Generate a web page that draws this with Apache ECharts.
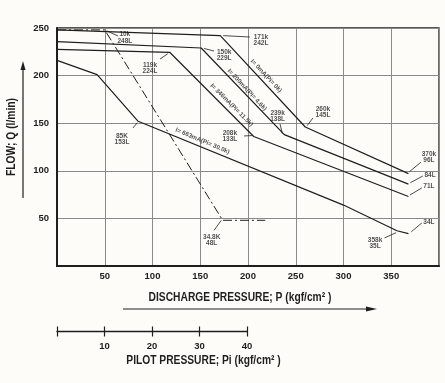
<!DOCTYPE html>
<html><head><meta charset="utf-8">
<script src="https://cdn.jsdelivr.net/npm/echarts@6/dist/echarts.min.js"></script>
<style>html,body{margin:0;padding:0;background:#fdfcf8}#c{width:445px;height:383px}</style>
</head><body><div id="c"></div>
<script>
// ---- data ----
const dischargeTicks = [50, 100, 150, 200, 250, 300, 350];
const flowTicks = [50, 100, 150, 200, 250];
const pilotTicks = [10, 20, 30, 40];

const curve0mA   = [[0, 248], [171, 242], [260, 146], [368, 97]];
const curve200mA = [[0, 235.6], [151, 229], [238, 138], [368, 86]];
const curve346mA = [[0, 227.6], [118, 224.5], [206, 136], [368, 73]];
const curve663mA = [[0, 216], [42, 201], [85, 152], [300, 64], [356, 37], [368, 34]];
const pilotLine  = [[0, 248], [50, 248], [173.5, 48], [218, 48]];

const curveNames = ['I= 0mA(Pi= 0k)', 'I= 200mA(Pi= 4.6k)', 'I= 346mA(Pi= 11.5k)', 'I= 663mA(Pi= 30.0k)'];
const curveNamePos = [[219, 199.6], [199, 185], [183, 169], [152.4, 131.3]];
const curveNameRot = [-47, -47, -45, -23];

const annText = ['10k\n248L', '171k\n242L', '150k\n229L', '119k\n224L', '239k\n138L', '260k\n145L',
                 '208k\n133L', '85K\n153L', '370k\n96L', '84L', '71L', '34L', '358k\n35L', '34.8K\n48L'];
const annTextPos = [[71, 240], [213.6, 237], [175, 221.6], [97.4, 208], [231, 157.6], [278.5, 161.8],
                    [181, 136.5], [68, 133.4], [389.5, 114.5], [390.6, 95.6], [389.5, 83.3], [389.5, 45.9],
                    [333, 24], [162, 27.3]];
const annFrom = [[64, 241.6], [202, 240.5], [164.4, 225.8], [107.9, 217.4], [233.5, 149.2], [268, 155.5],
                 [195.8, 136.6], [79.6, 145], [381, 109], [383, 94.5], [382, 82], [382, 45.2],
                 [343, 29.5], [164.5, 37.5]];
const annTo = [[52, 247], [174, 242], [154, 228.5], [116, 223], [236, 139], [262, 147.5],
               [204, 137], [84, 150.5], [369, 99], [370, 87.5], [369.5, 74.5], [371, 36],
               [355, 35], [172, 48]];

// ---- chart ----
const FONT = "'Liberation Sans',Arial,sans-serif";
const INK = '#1e1e1e';
const chart = echarts.init(document.getElementById('c'), null, {renderer: 'canvas'});

function curveSeries(d, dashed) {
  return {
    type: 'line', data: d, xAxisIndex: 0, yAxisIndex: 0, symbol: 'none', silent: true,
    lineStyle: {color: INK, width: dashed ? 1 : 1.2, type: dashed ? [9, 3, 2, 3] : 'solid'}
  };
}

const option = {
  backgroundColor: '#fdfcf8',
  animation: false,
  grid: [
    {left: 57, right: 6, top: 28, bottom: 117, show: true, borderColor: INK, borderWidth: 1.3, backgroundColor: 'transparent'},
    {left: 57, width: 190, top: 326.5, height: 10}
  ],
  xAxis: [
    {type: 'value', gridIndex: 0, min: 0, max: 400, interval: 50,
     axisLine: {show: true, lineStyle: {color: INK, width: 2}},
     axisTick: {show: false},
     splitLine: {show: true, lineStyle: {color: '#8a8a8a', width: 1}},
     axisLabel: {color: INK, fontFamily: FONT, fontWeight: 'bold', fontSize: 9.5, margin: 5,
       formatter: v => dischargeTicks.includes(v) ? String(v) : ''}},
    {type: 'value', gridIndex: 1, min: 0, max: 40, interval: 10,
     axisLine: {show: true, onZero: true, lineStyle: {color: INK, width: 1.3}},
     axisTick: {show: false},
     splitLine: {show: true, lineStyle: {color: INK, width: 1.2}},
     axisLabel: {color: INK, fontFamily: FONT, fontWeight: 'bold', fontSize: 9.5, margin: 5,
       formatter: v => pilotTicks.includes(v) ? String(v) : ''}}
  ],
  yAxis: [
    {type: 'value', gridIndex: 0, min: 0, max: 250, interval: 50,
     axisLine: {show: true, lineStyle: {color: INK, width: 2}},
     axisTick: {show: false},
     splitLine: {show: true, lineStyle: {color: '#8a8a8a', width: 1}},
     axisLabel: {color: INK, fontFamily: FONT, fontWeight: 'bold', fontSize: 9.5, margin: 8,
       formatter: v => flowTicks.includes(v) ? String(v) : ''}},
    {type: 'value', gridIndex: 1, min: -1, max: 1, show: false}
  ],
  series: [
    curveSeries(curve0mA, false),
    curveSeries(curve200mA, false),
    curveSeries(curve346mA, false),
    curveSeries(curve663mA, false),
    curveSeries(pilotLine, true),
    {
      type: 'scatter', xAxisIndex: 0, yAxisIndex: 0, symbolSize: 0, silent: true,
      data: curveNames.map((n, i) => ({
        value: curveNamePos[i],
        label: {show: true, position: 'inside', formatter: n, rotate: curveNameRot[i],
          color: INK, fontFamily: FONT, fontWeight: 'bold', fontSize: 6.2}
      }))
    },
    {
      type: 'scatter', xAxisIndex: 0, yAxisIndex: 0, symbolSize: 0, silent: true,
      data: annText.map((t, i) => ({
        value: annTextPos[i],
        label: {show: true, position: 'inside', formatter: t, color: INK, fontFamily: FONT,
          fontWeight: 'bold', fontSize: 6.5, lineHeight: 6.5, align: 'center'}
      })),
      markLine: {
        silent: true, symbol: ['none', 'arrow'], symbolSize: [0, 5],
        label: {show: false},
        lineStyle: {color: INK, width: 0.8, type: 'solid'},
        data: annFrom.map((f, i) => [{coord: f}, {coord: annTo[i]}])
      }
    }
  ],
  graphic: [
    {type: 'line', shape: {x1: 23, y1: 198, x2: 23, y2: 68}, style: {stroke: INK, lineWidth: 1.2}},
    {type: 'polygon', shape: {points: [[23, 61], [20.5, 70], [25.5, 70]]}, style: {fill: INK}},
    {type: 'text', x: 12, y: 137, rotation: Math.PI / 2, scaleX: 0.82,
     style: {text: 'FLOW; Q (l/min)', fill: INK, font: 'bold 12.5px ' + FONT, textAlign: 'center', textVerticalAlign: 'middle'}},
    {type: 'text', x: 240, y: 298, scaleX: 0.82,
     style: {text: 'DISCHARGE PRESSURE; P (kgf/cm² )', fill: INK, font: 'bold 12.5px ' + FONT, textAlign: 'center', textVerticalAlign: 'middle'}},
    {type: 'line', shape: {x1: 123, y1: 309, x2: 369, y2: 309}, style: {stroke: INK, lineWidth: 1.2}},
    {type: 'polygon', shape: {points: [[377, 309], [366, 306.5], [366, 311.5]]}, style: {fill: INK}},
    {type: 'text', x: 203.5, y: 361, scaleX: 0.82,
     style: {text: 'PILOT PRESSURE; Pi (kgf/cm² )', fill: INK, font: 'bold 12.5px ' + FONT, textAlign: 'center', textVerticalAlign: 'middle'}}
  ]
};
chart.setOption(option);
</script>
</body></html>
